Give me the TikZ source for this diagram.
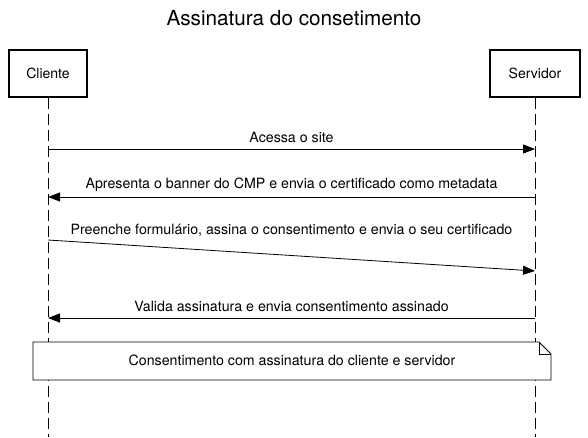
\documentclass[tikz,border=0pt]{standalone}
\usepackage{fontspec}
\setmainfont{TeX Gyre Heros}
\usetikzlibrary{arrows.meta}

\tikzset{
  ator/.style={draw,line width=2pt,minimum height=47pt,inner sep=0pt,font=\fontsize{14}{16}\selectfont},
  vida/.style={line width=0.9pt,dash pattern=on 11pt off 5pt},
  msg/.style={line width=0.8pt,-{Triangle[length=12pt,width=9pt]}},
  rotulo/.style={font=\fontsize{14.2}{16}\selectfont,inner sep=0pt},
}

\begin{document}
\begin{tikzpicture}[x=1pt,y=-1pt]
  \path[use as bounding box] (0,0) rectangle (588,437);

	% Titulo
	\node[font=\fontsize{20.7}{24}\selectfont] (titulo) at (294,18) {Assinatura do consetimento};

	% Participantes
	\node[ator,minimum width=78pt] (cli) at (48,73.5) {Cliente};
	\node[ator,minimum width=90pt] (srv) at (535,73.5) {Servidor};

	% Pontos nas linhas de vida
	\coordinate (cfim) at (48,437);
	\coordinate (sfim) at (535,437);
	\coordinate (c1) at (48,149);
	\coordinate (s1) at (535,149);
	\coordinate (c2) at (48,197);
	\coordinate (s2) at (535,197);
	\coordinate (c3) at (48,240);
	\coordinate (s3) at (535,271);
	\coordinate (c4) at (48,318);
	\coordinate (s4) at (535,318);

	% Linhas de vida
	\draw[vida] (cli.south) -- (cfim);
	\draw[vida] (srv.south) -- (sfim);

	% Mensagens
	\draw[msg] (c1) -- (s1);
	\node[rotulo] (m1) at (291.5,137) {Acessa o site};

	\draw[msg] (s2) -- (c2);
	\node[rotulo] (m2) at (291.5,185) {Apresenta o banner do CMP e envia o certificado como metadata};

	\draw[msg] (c3) -- (s3);
	\node[rotulo] (m3) at (291.5,230) {Preenche formulário, assina o consentimento e envia o seu certificado};

	\draw[msg] (s4) -- (c4);
	\node[rotulo] (m4) at (291.5,306) {Valida assinatura e envia consentimento assinado};

	% Nota
	\draw[fill=white,line width=0.8pt] (33,342) -- (539,342) -- (551,354) -- (551,380) -- (33,380) -- cycle;
	\draw[line width=0.8pt] (539,342) -- (539,354) -- (551,354);
	\node[rotulo] (nota) at (292,360) {Consentimento com assinatura do cliente e servidor};
\end{tikzpicture}
\end{document}
